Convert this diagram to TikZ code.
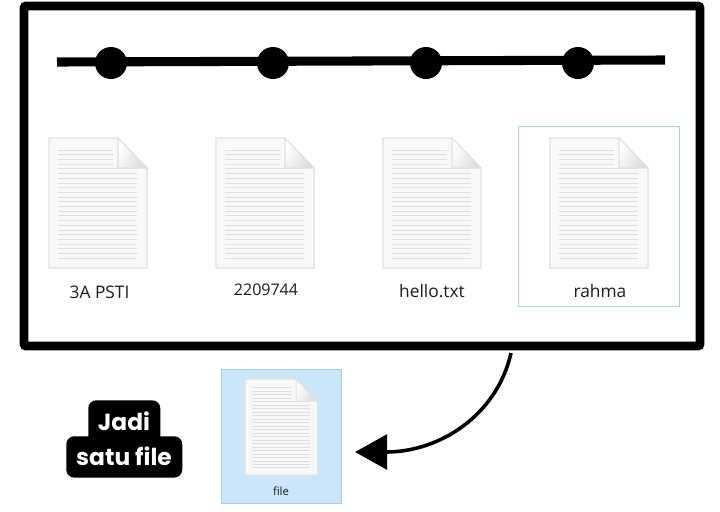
\documentclass[tikz,border=0pt]{standalone}
\usepackage{fontspec}
\setmainfont{Open Sans}
\newfontfamily\badgefont{Poppins}
\usetikzlibrary{arrows.meta,shadings}
\definecolor{docedge}{HTML}{DFE1E1}
\definecolor{docline}{HTML}{DDDFDF}
\definecolor{docfill}{HTML}{F8F8F8}
\definecolor{selblue}{HTML}{ABD6E6}
\definecolor{selfill}{HTML}{CBE6FB}
\definecolor{selline}{HTML}{A9CFE6}
\definecolor{labelcol}{HTML}{1C1C1C}
\tikzset{
  docicon/.pic={
    \fill[docfill,draw=docedge,line width=0.8pt] (0,0) -- (69,0) -- (98,30) -- (98,130) -- (0,130) -- cycle;
    \foreach \i in {0,...,3} \draw[docline,line width=0.6pt] (9,12+4.7*\i) -- (64,12+4.7*\i);
    \foreach \i in {4,...,23} \draw[docline,line width=0.6pt] (9,12+4.7*\i) -- (88,12+4.7*\i);
    \shade[left color=white,right color=black!14,shading angle=60,draw=docedge,line width=0.8pt] (69,0) -- (98,30) -- (69,30) -- cycle;
  },
  filelabel/.style={text=labelcol,font=\fontsize{13}{15}\selectfont,inner sep=0pt,anchor=center},
  selbox/.style={draw=selblue,line width=0.9pt,inner sep=0pt,anchor=north west},
  badgetext/.style={text=white,font=\badgefont\bfseries\fontsize{17.5}{20}\selectfont,inner sep=0pt,anchor=center},
  badgebox/.style={fill=black,rounded corners=6pt,inner sep=0pt,anchor=north west},
  timedot/.style={circle,fill=black,minimum size=24pt,inner sep=0pt},
}
\begin{document}
\begin{tikzpicture}[x=0.75pt,y=-0.75pt]
\useasboundingbox (0,0) rectangle (720,511);
% outer frame
\node[draw=black,line width=6.5pt,rounded corners=1.5pt,minimum width=507pt,minimum height=255pt,inner sep=0pt,anchor=north west,outer sep=0pt] (frame) at (24,6) {};
% timeline
\coordinate (tlL) at (57,62);
\coordinate (tlR) at (665,60);
\draw[line width=6.8pt] (tlL) -- (tlR);
\node[timedot] (d1) at (111,63) {};
\node[timedot] (d2) at (273,63) {};
\node[timedot] (d3) at (426,63) {};
\node[timedot] (d4) at (578,63) {};
% selection boxes
\node[selbox,minimum width=120.75pt,minimum height=135pt] (selr) at (518,126) {};
\node[selbox,fill=selfill,draw=selline,minimum width=90pt,minimum height=100.5pt] (self) at (221,369) {};
% documents
\pic at (49,138) {docicon};
\pic at (216,138) {docicon};
\pic at (383,138) {docicon};
\pic at (550,138) {docicon};
\pic[scale=0.74] at (245,379) {docicon};
% labels
\node[filelabel] (l1) at (99.5,292) {3A PSTI};
\node[filelabel,font=\fontsize{12}{14}\selectfont] (l2) at (266,290) {2209744};
\node[filelabel] (l3) at (432,291) {hello.txt};
\node[filelabel] (l4) at (600,291) {rahma};
\node[filelabel,font=\fontsize{8.5}{10}\selectfont] (l5) at (281,491) {file};
% badge
\node[badgebox,minimum width=54pt,minimum height=33pt] (b1) at (88,400) {};
\node[badgebox,minimum width=87pt,minimum height=31pt] (b2) at (66,436) {};
\node[badgetext] (t1) at (124,421) {Jadi};
\node[badgetext] (t2) at (124,456) {satu file};
% arrow
\coordinate (arrS) at (511,353);
\coordinate (arrE) at (355,452);
\draw[line width=2.7pt,-{Triangle[length=24pt,width=26pt]}] (arrS) .. controls (497,415) and (440,452) .. (arrE);
\end{tikzpicture}
\end{document}
